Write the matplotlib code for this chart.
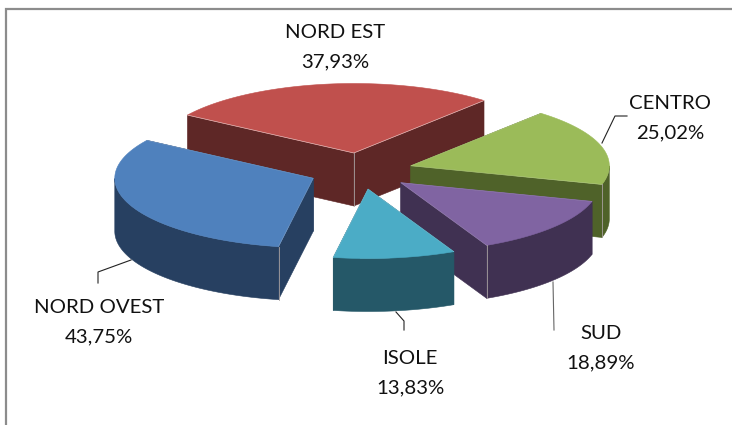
import numpy as np
import matplotlib
matplotlib.use("Agg")
import matplotlib.pyplot as plt
from matplotlib.patches import Polygon

plt.rcParams['font.family'] = ['Lato', 'DejaVu Sans']

# counter clockwise order, starting from the back slice
names = ['NORD EST', 'NORD OVEST', 'ISOLE', 'SUD', 'CENTRO']
values = [37.93, 43.75, 13.83, 18.89, 25.02]

top_colors = ['#C0504D', '#4F81BD', '#4BACC6', '#8064A2', '#9BBB59']
side_colors = ['#5E2726', '#274061', '#255868', '#403152', '#4F6229']
draw_order = [0, 4, 1, 3, 2]
seam = ['apex', 'end', None, 'start', 'start']

# pie geometry, in pixels
cx, cy = 361, 171
rad = 198.5
squash = 0.35
depth = 53
explode = 52
start_angle = 49

label_pos = [(335, 47), (99, 322), (410, 373), (601, 348), (670, 118)]
leaders = [None,
           [(131, 260), (98, 272), (98, 283)],
           [(396, 312), (404, 321), (404, 330)],
           [(553, 282), (554, 330)],
           [(602, 143), (615, 116), (627, 116)]]
leader_colors = ['k', '#222222', '#222222', '#666666', '#222222']

fig = plt.figure(figsize=(7.32, 4.25), dpi=100)
ax = fig.add_axes([0, 0, 1, 1])
ax.set_xlim(0, 732)
ax.set_ylim(425, 0)
ax.axis('off')

# chart frame, only top and left show
ax.plot([6, 6, 732], [425, 9, 9], color='#8C8C8C', lw=1.6, solid_joinstyle='miter')

edges = start_angle + np.cumsum([0] + values) / sum(values) * 360


def pt(a, x0, y0, r=rad):
    a = np.radians(a)
    return x0 + r * np.cos(a), y0 - squash * r * np.sin(a)


for i in draw_order:
    a0, a1 = edges[i], edges[i + 1]
    x0, y0 = pt((a0 + a1) / 2, cx, cy, explode)
    ang = np.linspace(a0, a1, 300)
    ax_, ay_ = pt(ang, x0, y0)
    arc = np.column_stack([ax_, ay_])
    apex = np.array([x0, y0])
    down = np.array([0, depth])

    # back side first, then the wall and top over it
    for p in (arc[0], arc[-1]):
        q = np.array([apex, p, p + down, apex + down])
        ax.add_patch(Polygon(q, closed=True, fc=side_colors[i], ec=side_colors[i], lw=0.4))
    # only the part of the wall that faces the viewer
    front = arc[np.sin(np.radians(ang)) <= 0]
    if len(front) > 1:
        ax.add_patch(Polygon(np.vstack([front, (front + down)[::-1]]), closed=True,
                             fc=side_colors[i], ec=side_colors[i], lw=0.4))

    if seam[i] == 'apex':
        sp = apex
    elif seam[i] == 'start':
        sp = arc[0]
    elif seam[i] == 'end':
        sp = arc[-1]
    else:
        sp = None
    if sp is not None:
        ax.plot([sp[0], sp[0]], [sp[1], sp[1] + depth], color='#A8A0A0', lw=0.6)

    ax.add_patch(Polygon(np.vstack([apex, arc]), closed=True, fc=top_colors[i],
                         ec=top_colors[i], lw=0.4))
    # thin light line on the two straight top edges
    ax.plot([arc[0][0], apex[0], arc[-1][0]], [arc[0][1], apex[1], arc[-1][1]],
            color='white', lw=0.5, alpha=0.6 if i == 0 else 0.2)

for i in range(len(names)):
    if leaders[i]:
        xs, ys = zip(*leaders[i])
        ax.plot(xs, ys, color=leader_colors[i], lw=0.8)
    txt = names[i] + '\n' + f'{values[i]:.2f}'.replace('.', ',') + '%'
    ax.text(label_pos[i][0], label_pos[i][1], txt, ha='center', va='center',
            fontsize=14.7, color='#111111', linespacing=1.9)

fig.savefig('out.png', dpi=100)
